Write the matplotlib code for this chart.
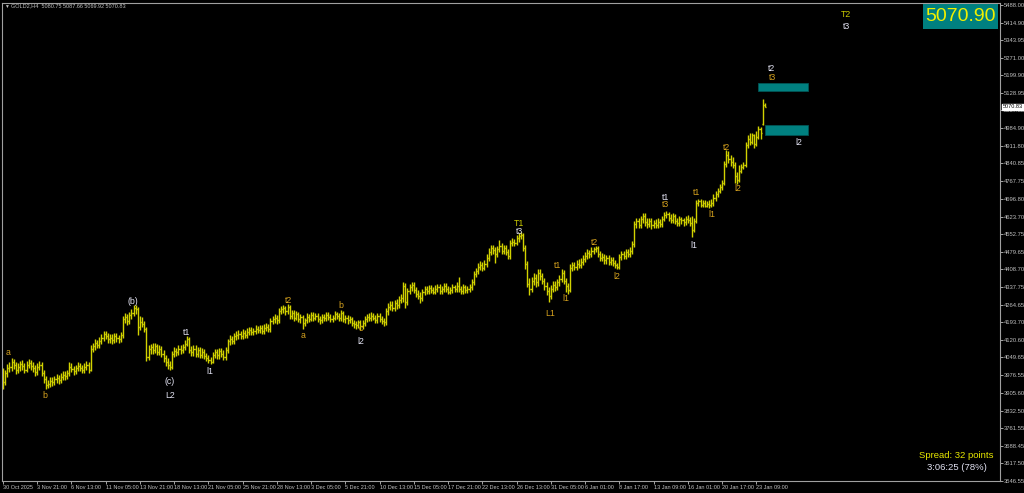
import matplotlib
matplotlib.use('Agg')
import matplotlib.pyplot as plt
from matplotlib.collections import LineCollection
from matplotlib.patches import Rectangle
from matplotlib.transforms import blended_transform_factory

# GOLD H4 bars (one row = 10 bars)
opens = [
    3995, 3950, 3985, 4005, 4012, 4030, 4018, 3998, 4010, 4022,
    4015, 4000, 4020, 4028, 4015, 4005, 3990, 4012, 4018, 3985,
    3962, 3935, 3942, 3955, 3948, 3960, 3966, 3958, 3970, 3978,
    3972, 3985, 4010, 4002, 3992, 4005, 4015, 4008, 3998, 4012,
    4020, 4000, 4085, 4095, 4110, 4100, 4118, 4130, 4145, 4138,
    4125, 4130, 4122, 4135, 4128, 4125, 4140, 4205, 4215, 4198,
    4222, 4230, 4250, 4245, 4175, 4195, 4185, 4165, 4050, 4085,
    4090, 4080, 4095, 4072, 4085, 4065, 4045, 4030, 4020, 4010,
    4062, 4075, 4070, 4085, 4078, 4090, 4105, 4125, 4080, 4070,
    4085, 4065, 4078, 4060, 4072, 4055, 4048, 4040, 4030, 4060,
    4070, 4058, 4075, 4065, 4050, 4078, 4115, 4125, 4118, 4135,
    4140, 4145, 4138, 4150, 4142, 4155, 4160, 4152, 4158, 4165,
    4162, 4168, 4158, 4170, 4175, 4165, 4198, 4205, 4212, 4200,
    4240, 4245, 4250, 4238, 4255, 4220, 4230, 4212, 4225, 4205,
    4215, 4190, 4200, 4215, 4208, 4222, 4212, 4218, 4205, 4200,
    4215, 4210, 4222, 4215, 4205, 4212, 4225, 4218, 4210, 4232,
    4205, 4210, 4200, 4205, 4190, 4185, 4180, 4192, 4178, 4188,
    4205, 4215, 4210, 4220, 4212, 4200, 4218, 4205, 4198, 4192,
    4240, 4255, 4265, 4250, 4270, 4262, 4285, 4290, 4340, 4275,
    4320, 4335, 4345, 4325, 4310, 4300, 4290, 4315, 4328, 4320,
    4332, 4325, 4318, 4330, 4335, 4322, 4328, 4340, 4330, 4318,
    4326, 4335, 4328, 4342, 4330, 4322, 4335, 4325, 4330, 4338,
    4355, 4390, 4400, 4420, 4428, 4415, 4432, 4455, 4480, 4495,
    4488, 4470, 4490, 4505, 4485, 4495, 4480, 4465, 4515, 4522,
    4518, 4535, 4545, 4550, 4495, 4430, 4350, 4330, 4360, 4372,
    4355, 4395, 4380, 4360, 4340, 4320, 4300, 4330, 4345, 4338,
    4355, 4370, 4395, 4360, 4340, 4325, 4415, 4425, 4418, 4432,
    4428, 4440, 4452, 4465, 4475, 4470, 4485, 4490, 4495, 4470,
    4455, 4460, 4445, 4455, 4440, 4448, 4435, 4425, 4418, 4460,
    4470, 4465, 4478, 4472, 4485, 4510, 4595, 4605, 4590, 4612,
    4625, 4600, 4592, 4605, 4588, 4598, 4590, 4602, 4595, 4615,
    4630, 4635, 4620, 4610, 4625, 4605, 4598, 4612, 4608, 4600,
    4615, 4610, 4598, 4570, 4605, 4680, 4688, 4672, 4678, 4668,
    4675, 4670, 4680, 4700, 4715, 4730, 4745, 4760, 4840, 4875,
    4860, 4845, 4835, 4790, 4775, 4810, 4825, 4835, 4915, 4940,
    4930, 4955, 4920, 4950, 4980, 5000, 5080.75,
]
highs = [
    4008, 4000, 4022, 4030, 4046, 4044, 4032, 4026, 4036, 4038,
    4028, 4034, 4044, 4040, 4030, 4018, 4026, 4034, 4030, 4000,
    3972, 3956, 3970, 3968, 3975, 3982, 3978, 3985, 3994, 3992,
    4000, 4030, 4025, 4016, 4020, 4032, 4028, 4020, 4026, 4036,
    4032, 4098, 4110, 4126, 4122, 4132, 4145, 4158, 4156, 4150,
    4146, 4144, 4148, 4148, 4140, 4154, 4218, 4230, 4228, 4236,
    4246, 4262, 4265, 4255, 4218, 4214, 4198, 4175, 4100, 4106,
    4108, 4110, 4106, 4098, 4096, 4078, 4060, 4048, 4036, 4076,
    4090, 4088, 4098, 4100, 4104, 4120, 4136, 4134, 4096, 4100,
    4098, 4090, 4093, 4086, 4084, 4068, 4060, 4052, 4073, 4084,
    4084, 4088, 4088, 4078, 4090, 4126, 4140, 4138, 4148, 4156,
    4160, 4158, 4164, 4163, 4168, 4174, 4172, 4170, 4180, 4178,
    4182, 4180, 4184, 4190, 4186, 4212, 4220, 4226, 4223, 4252,
    4258, 4262, 4260, 4268, 4262, 4244, 4242, 4238, 4236, 4228,
    4224, 4212, 4230, 4228, 4236, 4234, 4232, 4230, 4218, 4228,
    4228, 4236, 4234, 4226, 4224, 4238, 4236, 4230, 4244, 4240,
    4224, 4222, 4218, 4216, 4204, 4198, 4204, 4203, 4200, 4218,
    4228, 4230, 4234, 4232, 4224, 4232, 4230, 4218, 4212, 4252,
    4270, 4280, 4278, 4284, 4286, 4300, 4306, 4356, 4354, 4334,
    4350, 4358, 4356, 4338, 4326, 4316, 4330, 4342, 4340, 4346,
    4346, 4338, 4344, 4350, 4348, 4342, 4352, 4352, 4342, 4338,
    4348, 4346, 4356, 4378, 4342, 4348, 4346, 4342, 4350, 4368,
    4403, 4416, 4434, 4442, 4440, 4446, 4470, 4496, 4506, 4506,
    4498, 4504, 4530, 4518, 4508, 4506, 4492, 4528, 4535, 4534,
    4548, 4558, 4562, 4558, 4506, 4442, 4372, 4378, 4392, 4388,
    4408, 4408, 4393, 4373, 4358, 4338, 4344, 4363, 4360, 4370,
    4384, 4408, 4404, 4373, 4353, 4430, 4440, 4438, 4448, 4452,
    4454, 4466, 4478, 4490, 4488, 4498, 4500, 4502, 4502, 4482,
    4475, 4472, 4468, 4466, 4460, 4458, 4446, 4436, 4473, 4484,
    4484, 4490, 4490, 4498, 4526, 4606, 4620, 4618, 4628, 4640,
    4638, 4618, 4618, 4616, 4610, 4612, 4616, 4614, 4628, 4644,
    4648, 4644, 4633, 4640, 4636, 4618, 4626, 4624, 4620, 4628,
    4630, 4623, 4626, 4620, 4692, 4697, 4696, 4692, 4690, 4688,
    4690, 4694, 4716, 4730, 4742, 4758, 4772, 4850, 4896, 4890,
    4874, 4866, 4846, 4806, 4836, 4838, 4846, 4928, 4958, 4966,
    4966, 4962, 4972, 4992, 4990, 5102, 5087.66,
]
lows = [
    3922, 3935, 3968, 3988, 3995, 4002, 3982, 3984, 3995, 3998,
    3986, 3988, 4005, 3998, 3990, 3974, 3978, 3996, 3972, 3946,
    3920, 3924, 3930, 3934, 3936, 3946, 3942, 3946, 3956, 3958,
    3960, 3972, 3988, 3978, 3980, 3992, 3994, 3984, 3986, 3998,
    3986, 3992, 4070, 4080, 4086, 4088, 4104, 4118, 4124, 4110,
    4110, 4106, 4110, 4114, 4110, 4112, 4128, 4190, 4182, 4184,
    4208, 4218, 4228, 4142, 4162, 4172, 4152, 4035, 4038, 4062,
    4064, 4067, 4058, 4060, 4052, 4032, 4014, 4004, 3998, 4002,
    4050, 4057, 4058, 4064, 4066, 4078, 4094, 4068, 4054, 4057,
    4052, 4052, 4047, 4048, 4042, 4034, 4028, 4024, 4025, 4047,
    4044, 4044, 4052, 4038, 4040, 4066, 4102, 4104, 4106, 4122,
    4126, 4124, 4126, 4130, 4130, 4142, 4140, 4140, 4146, 4148,
    4148, 4144, 4146, 4157, 4152, 4154, 4184, 4190, 4187, 4188,
    4228, 4232, 4224, 4226, 4208, 4207, 4197, 4200, 4192, 4190,
    4165, 4178, 4188, 4194, 4196, 4198, 4200, 4192, 4186, 4188,
    4196, 4198, 4202, 4192, 4192, 4200, 4206, 4198, 4198, 4192,
    4190, 4186, 4188, 4178, 4170, 4166, 4168, 4160, 4164, 4176,
    4192, 4196, 4198, 4200, 4188, 4188, 4192, 4186, 4178, 4182,
    4224, 4242, 4237, 4238, 4248, 4250, 4272, 4277, 4252, 4262,
    4306, 4320, 4312, 4296, 4287, 4272, 4278, 4302, 4306, 4308,
    4312, 4306, 4307, 4317, 4310, 4310, 4316, 4318, 4306, 4306,
    4312, 4316, 4316, 4318, 4308, 4310, 4312, 4312, 4318, 4326,
    4345, 4377, 4388, 4406, 4402, 4404, 4420, 4442, 4467, 4472,
    4436, 4457, 4478, 4472, 4472, 4467, 4450, 4452, 4502, 4504,
    4506, 4522, 4532, 4482, 4410, 4337, 4302, 4317, 4344, 4336,
    4342, 4367, 4347, 4326, 4304, 4274, 4287, 4316, 4322, 4324,
    4342, 4357, 4347, 4316, 4310, 4318, 4402, 4406, 4406, 4414,
    4416, 4428, 4440, 4452, 4456, 4458, 4472, 4478, 4458, 4442,
    4442, 4432, 4432, 4426, 4428, 4422, 4414, 4408, 4410, 4447,
    4450, 4452, 4460, 4460, 4472, 4500, 4577, 4578, 4578, 4597,
    4587, 4578, 4580, 4575, 4576, 4577, 4578, 4582, 4582, 4604,
    4617, 4607, 4597, 4597, 4592, 4587, 4586, 4592, 4586, 4588,
    4596, 4586, 4540, 4560, 4596, 4667, 4662, 4662, 4662, 4662,
    4660, 4662, 4668, 4688, 4702, 4718, 4734, 4752, 4826, 4844,
    4832, 4820, 4760, 4756, 4766, 4800, 4816, 4826, 4904, 4914,
    4918, 4903, 4912, 4940, 4940, 4998, 5069.92,
]
closes = [
    3950, 3985, 4005, 4012, 4030, 4018, 3998, 4010, 4022, 4015,
    4000, 4020, 4028, 4015, 4005, 3990, 4012, 4018, 3985, 3962,
    3935, 3942, 3955, 3948, 3960, 3966, 3958, 3970, 3978, 3972,
    3985, 4010, 4002, 3992, 4005, 4015, 4008, 3998, 4012, 4020,
    4000, 4085, 4095, 4110, 4100, 4118, 4130, 4145, 4138, 4125,
    4130, 4122, 4135, 4128, 4125, 4140, 4205, 4215, 4198, 4222,
    4230, 4250, 4245, 4175, 4195, 4185, 4165, 4050, 4085, 4090,
    4080, 4095, 4072, 4085, 4065, 4045, 4030, 4020, 4010, 4062,
    4075, 4070, 4085, 4078, 4090, 4105, 4125, 4080, 4070, 4085,
    4065, 4078, 4060, 4072, 4055, 4048, 4040, 4030, 4060, 4070,
    4058, 4075, 4065, 4050, 4078, 4115, 4125, 4118, 4135, 4140,
    4145, 4138, 4150, 4142, 4155, 4160, 4152, 4158, 4165, 4162,
    4168, 4158, 4170, 4175, 4165, 4198, 4205, 4212, 4200, 4240,
    4245, 4250, 4238, 4255, 4220, 4230, 4212, 4225, 4205, 4215,
    4190, 4200, 4215, 4208, 4222, 4212, 4218, 4205, 4200, 4215,
    4210, 4222, 4215, 4205, 4212, 4225, 4218, 4210, 4232, 4205,
    4210, 4200, 4205, 4190, 4185, 4180, 4192, 4178, 4188, 4205,
    4215, 4210, 4220, 4212, 4200, 4218, 4205, 4198, 4192, 4240,
    4255, 4265, 4250, 4270, 4262, 4285, 4290, 4340, 4275, 4320,
    4335, 4345, 4325, 4310, 4300, 4290, 4315, 4328, 4320, 4332,
    4325, 4318, 4330, 4335, 4322, 4328, 4340, 4330, 4318, 4326,
    4335, 4328, 4342, 4330, 4322, 4335, 4325, 4330, 4338, 4355,
    4390, 4400, 4420, 4428, 4415, 4432, 4455, 4480, 4495, 4488,
    4470, 4490, 4505, 4485, 4495, 4480, 4465, 4515, 4522, 4518,
    4535, 4545, 4550, 4495, 4430, 4350, 4330, 4360, 4372, 4355,
    4395, 4380, 4360, 4340, 4320, 4300, 4330, 4345, 4338, 4355,
    4370, 4395, 4360, 4340, 4325, 4415, 4425, 4418, 4432, 4428,
    4440, 4452, 4465, 4475, 4470, 4485, 4490, 4495, 4470, 4455,
    4460, 4445, 4455, 4440, 4448, 4435, 4425, 4418, 4460, 4470,
    4465, 4478, 4472, 4485, 4510, 4595, 4605, 4590, 4612, 4625,
    4600, 4592, 4605, 4588, 4598, 4590, 4602, 4595, 4615, 4630,
    4635, 4620, 4610, 4625, 4605, 4598, 4612, 4608, 4600, 4615,
    4610, 4598, 4570, 4605, 4680, 4688, 4672, 4678, 4668, 4675,
    4670, 4680, 4700, 4715, 4730, 4745, 4760, 4840, 4875, 4860,
    4845, 4835, 4790, 4775, 4810, 4825, 4835, 4915, 4940, 4930,
    4955, 4920, 4950, 4980, 4965, 5080.75, 5070.83,
]

# x axis: one label every 16 bars
date_labels = ['30 Oct 2025', '3 Nov 21:00', '6 Nov 13:00', '11 Nov 05:00', '13 Nov 21:00',
               '18 Nov 13:00', '21 Nov 05:00', '25 Nov 21:00', '28 Nov 13:00', '3 Dec 05:00',
               '5 Dec 21:00', '10 Dec 13:00', '15 Dec 05:00', '17 Dec 21:00', '22 Dec 13:00',
               '26 Dec 13:00', '31 Dec 05:00', '6 Jan 01:00', '8 Jan 17:00', '13 Jan 09:00',
               '16 Jan 01:00', '20 Jan 17:00', '23 Jan 09:00']
price_ticks = [5488.00, 5414.90, 5343.95, 5271.00, 5199.90, 5128.95, 5057.85, 4984.90,
               4911.80, 4840.85, 4767.75, 4696.80, 4623.70, 4552.75, 4479.65, 4408.70,
               4337.75, 4264.65, 4193.70, 4120.60, 4049.65, 3976.55, 3905.60, 3832.50,
               3761.55, 3688.45, 3617.50, 3546.55]

# wave markers: (bar, price, text, colour key)
wave_marks = [
    (2.3, 4071, 'a', 'g'), (19.6, 3896, 'b', 'g'), (60.7, 4279, '(b)', 'w'),
    (78, 3953, '(c)', 'w'), (78, 3892, 'L2', 'w'), (86, 4149, 't1', 'w'),
    (96.7, 3993, 'l1', 'w'), (133.2, 4283, 't2', 'g'), (140.2, 4137, 'a', 'g'),
    (158, 4263, 'b', 'g'), (167.3, 4166, 'c', 'g'), (167.3, 4116, 'l2', 'w'),
    (241, 4596, 'T1', 'y'), (241.6, 4563, 't3', 'w'), (255.6, 4230, 'L1', 'g'),
    (259.3, 4426, 't1', 'g'), (263, 4288, 'l1', 'g'), (276.6, 4520, 't2', 'g'),
    (287, 4381, 'l2', 'g'), (309.8, 4703, 't1', 'w'), (309.8, 4674, 't3', 'g'),
    (322.9, 4504, 'l1', 'w'), (324.3, 4723, 't1', 'g'), (331.3, 4634, 'l1', 'g'),
    (338.3, 4907, 't2', 'g'), (343.5, 4740, 'l2', 'g'), (359.3, 5226, 't2', 'w'),
    (359.8, 5193, 't3', 'g'), (372, 4924, 'l2', 'w'), (394, 5450, 'T2', 'y'),
    (394, 5401, 't3', 'w'),
]
# target zones: (first bar, last bar, low, high)
zones = [(353, 376, 5136, 5169), (356, 376, 4956, 4997)]

last_price = '5070.90'
bid = 5070.83
header = 'GOLD2,H4  5080.75 5087.66 5069.92 5070.83'

BAR_COL = '#d2d200'
TEAL = '#008080'
FG = '#c0c0c0'
label_cols = {'g': '#d6a21e', 'w': '#e2e2f2', 'y': '#cccc00'}

plt.rcParams['font.family'] = ['Liberation Sans', 'DejaVu Sans']

fig = plt.figure(figsize=(10.24, 4.93), dpi=100, facecolor='black')
ax = fig.add_axes([2 / 1024, 12 / 493, 998 / 1024, 478 / 493])
ax.set_facecolor('black')

segs = []
for i in range(len(closes)):
    segs.append([(i, lows[i]), (i, highs[i])])
    segs.append([(i - 0.5, opens[i]), (i, opens[i])])
    segs.append([(i, closes[i]), (i + 0.5, closes[i])])
ax.add_collection(LineCollection(segs, colors=BAR_COL, linewidths=1.0))

for x0, x1, lo, hi in zones:
    ax.add_patch(Rectangle((x0, lo), x1 - x0, hi - lo, facecolor=TEAL,
                           edgecolor='#005555', linewidth=0.6, zorder=3))

for bx, py, txt, ck in wave_marks:
    ax.text(bx, py, txt, color=label_cols[ck], fontsize=6.3, ha='center', va='center', zorder=4)

ax.set_xlim(-0.47, 465.9)
ax.set_ylim(3545.3, 5494.9)

ax.yaxis.tick_right()
ax.set_yticks(price_ticks)
ax.set_yticklabels(['%.2f' % p for p in price_ticks])
ax.tick_params(axis='y', colors=FG, labelsize=4.2, length=2, width=0.6, pad=1)

ax.set_xticks(range(0, 16 * len(date_labels), 16))
ax.set_xticklabels(date_labels, ha='left')
ax.tick_params(axis='x', colors=FG, labelsize=4.0, length=2.5, width=0.6, pad=0.5)

for sp in ax.spines.values():
    sp.set_color('#a0a0a0')
    sp.set_linewidth(0.8)

# bid label on the price scale
trans = blended_transform_factory(ax.transAxes, ax.transData)
ax.text(1.003, bid, '%.2f' % bid, transform=trans, fontsize=4.0, color='black',
        va='center', ha='left', clip_on=False, zorder=6,
        bbox=dict(boxstyle='square,pad=0.15', facecolor='white', edgecolor='white'))

# big price box in the upper right corner
fig.add_artist(Rectangle((923 / 1024, 1 - 29 / 493), 75 / 1024, 25 / 493,
                         transform=fig.transFigure, facecolor=TEAL, edgecolor='none'))
fig.text(960.5 / 1024, 1 - 16.5 / 493, last_price, color='#f0f000', fontsize=14,
         ha='center', va='center')

fig.text(956.5 / 1024, 1 - 455 / 493, 'Spread: 32 points', color='#e8e800', fontsize=6.8,
         ha='center', va='center')
fig.text(956.5 / 1024, 1 - 467 / 493, '3:06:25 (78%)', color='#e2e2f2', fontsize=6.8,
         ha='center', va='center')

fig.text(4 / 1024, 1 - 6 / 493, '\u25bc', color=FG, fontsize=3.5, va='center')
fig.text(11 / 1024, 1 - 6 / 493, header, color=FG, fontsize=4.0, va='center')

fig.savefig('out.png', dpi=100, facecolor='black')
